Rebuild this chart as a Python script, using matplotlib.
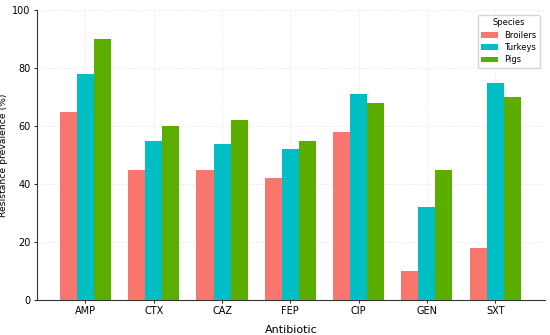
import numpy as np
import matplotlib
matplotlib.use("Agg")
import matplotlib.pyplot as plt

antibiotics = ["AMP", "CTX", "CAZ", "FEP", "CIP", "GEN", "SXT"]
broilers = [65, 45, 45, 42, 58, 10, 18]
turkeys = [78, 55, 54, 52, 71, 32, 75]
pigs = [90, 60, 62, 55, 68, 45, 70]
species = ["Broilers", "Turkeys", "Pigs"]
colors = ["#F8766D", "#00BFC4", "#5BAE00"]

fig = plt.figure(figsize=(5.5, 3.35), dpi=100)
ax = fig.add_axes([0.0673, 0.104, 0.9236, 0.866])

x = np.arange(len(antibiotics))
w = 0.25
for i, (vals, name) in enumerate(zip([broilers, turkeys, pigs], species)):
    ax.bar(x + (i - 1) * w, vals, w, color=colors[i], label=name, zorder=3)

ax.set_ylim(0, 100)
ax.set_xlim(-0.71, 6.73)
ax.set_xticks(x)
ax.set_xticklabels(antibiotics)
ax.tick_params(labelsize=7, length=2.5, width=0.6, pad=2)
ax.set_ylabel("Resistance prevalence (%)", fontsize=6.7, labelpad=3)
ax.set_xlabel("Antibiotic", fontsize=8, labelpad=6)
ax.grid(True, linestyle=":", linewidth=0.6, color="#dddddd", zorder=0)
for s in ["top", "right"]:
    ax.spines[s].set_visible(False)
for s in ["left", "bottom"]:
    ax.spines[s].set_linewidth(0.8)
    ax.spines[s].set_color("#333333")

ax.legend(title="Species", fontsize=6, title_fontsize=6, loc="upper right",
          frameon=True, edgecolor="#cccccc", handlelength=2.0,
          borderaxespad=0.6, labelspacing=0.4)

fig.savefig("out.png", dpi=100)
